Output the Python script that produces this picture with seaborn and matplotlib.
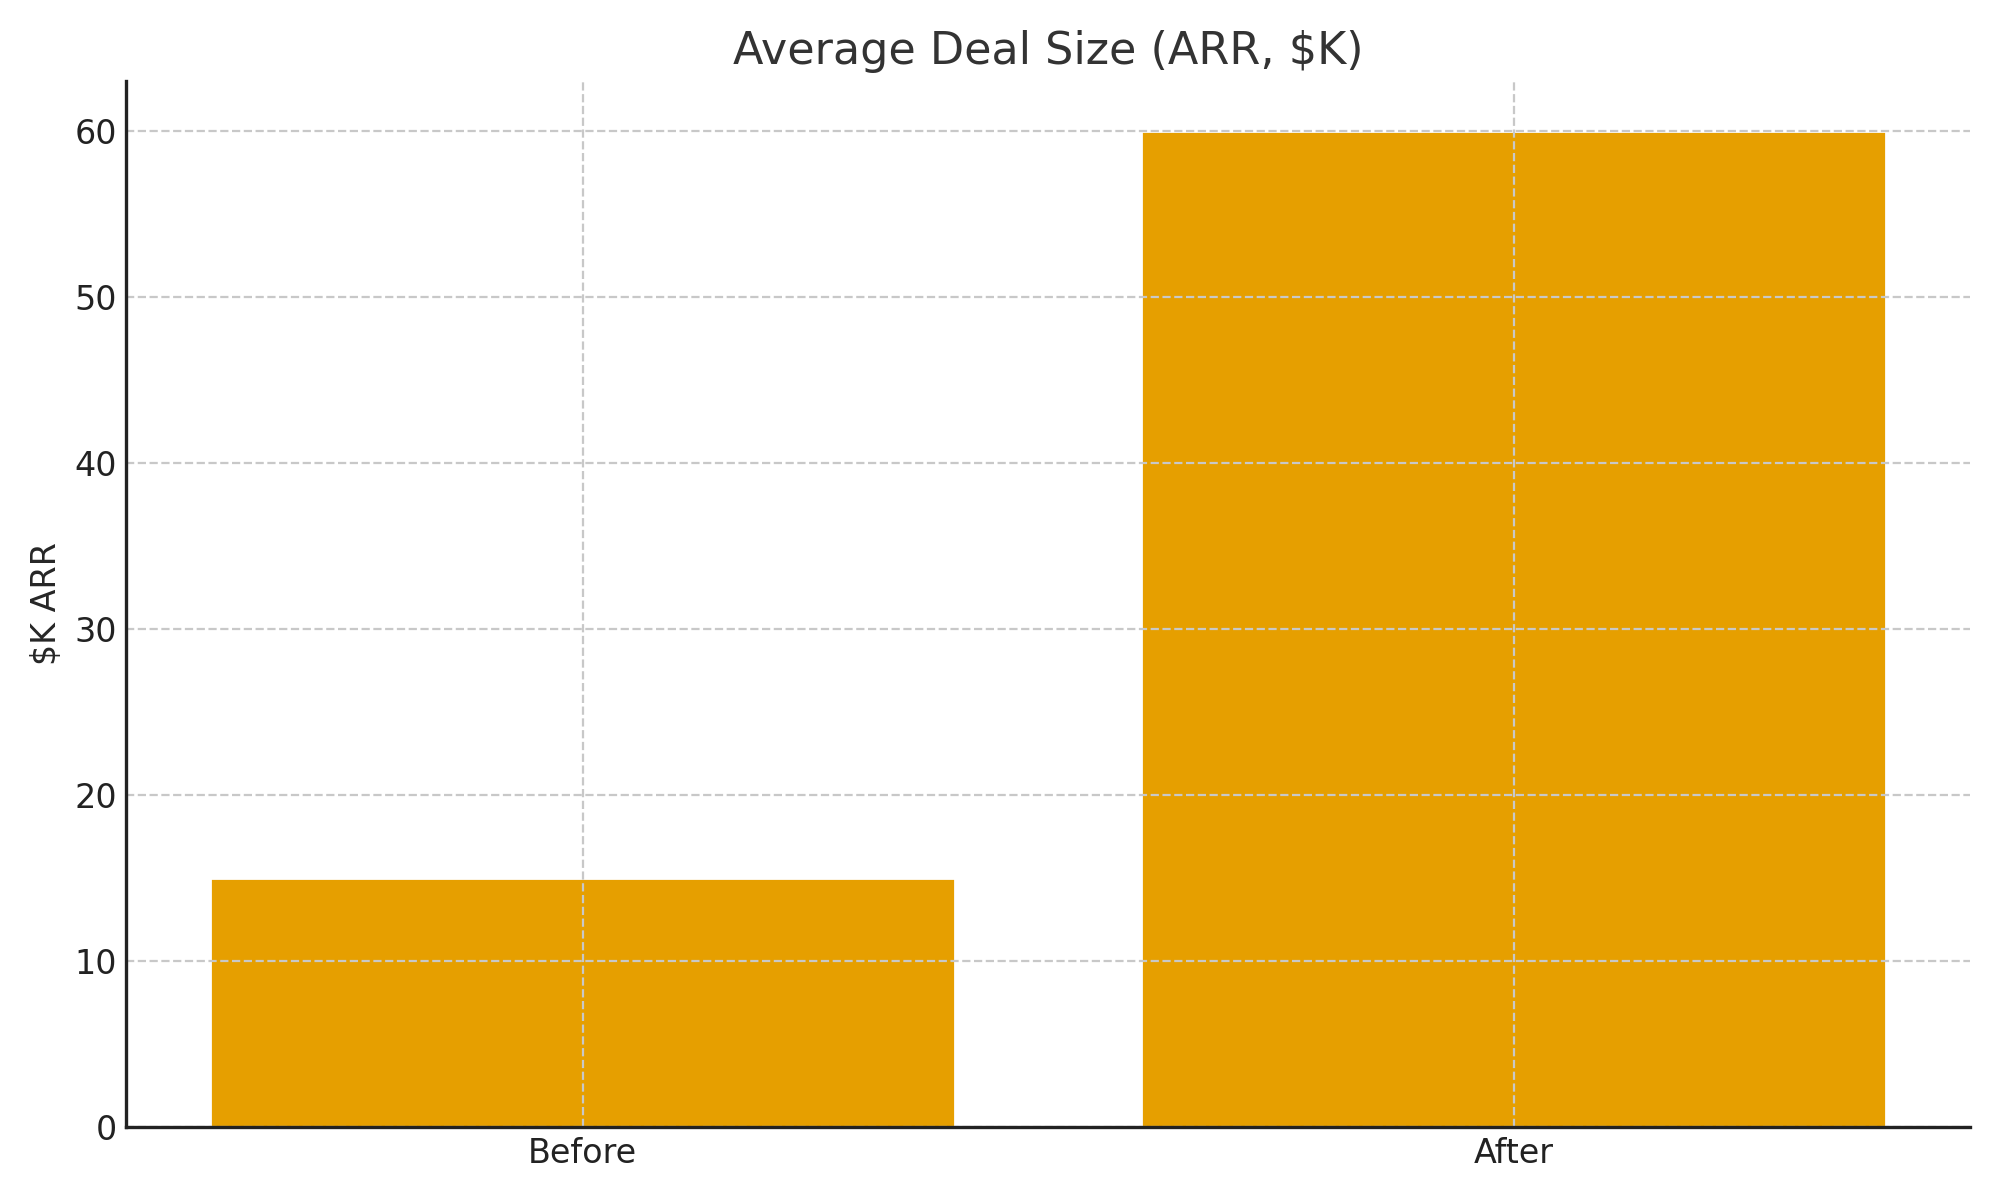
import matplotlib
matplotlib.use("Agg")
import matplotlib.pyplot as plt
import pandas as pd
import seaborn as sns

# values
periods = ["Before", "After"]
deal_size_k = [15, 60]

df = pd.DataFrame({"period": periods, "arr": deal_size_k})

sns.set_style("white")
plt.rcParams["font.family"] = ["DejaVu Sans"]
plt.rcParams.update({"font.size": 10})

fig, ax = plt.subplots(figsize=(10, 6), dpi=200)
sns.barplot(data=df, x="period", y="arr", color="#E69F00", saturation=1,
            width=0.8, ax=ax)
ax.set_xlim(-0.49, 1.49)
ax.set_ylim(0, 63)

ax.set_title("Average Deal Size (ARR, $K)", fontsize=16, color="#333333")
ax.set_xlabel("")
ax.set_ylabel("$K ARR", fontsize=12)
ax.tick_params(direction="in", labelsize=12, length=4, width=1.2, colors="#222222")
ax.grid(True, linestyle="--", color="#c8c8c8", linewidth=0.8)
ax.set_axisbelow(False)
sns.despine(ax=ax)
for s in ["left", "bottom"]:
    ax.spines[s].set_color("#222222")
    ax.spines[s].set_linewidth(1.2)
    ax.spines[s].set_zorder(4)

plt.tight_layout()
plt.savefig("out.png")
